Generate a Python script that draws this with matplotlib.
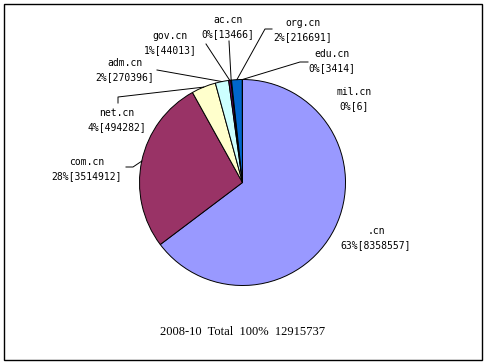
import matplotlib
matplotlib.use('Agg')
from matplotlib import pyplot as plt
from matplotlib.patches import Rectangle
import numpy as np

names = ['.cn', 'com.cn', 'net.cn', 'adm.cn', 'gov.cn', 'ac.cn', 'org.cn', 'edu.cn', 'mil.cn']
counts = [8358557, 3514912, 494282, 270396, 44013, 13466, 216691, 3414, 6]
percents = ['63%', '28%', '4%', '2%', '1%', '0%', '2%', '0%', '0%']
colors = ['#9999FF', '#993366', '#FFFFCC', '#CCFFFF', '#660066',
          '#FF8080', '#0066CC', '#CCCCFF', '#000080']
title = '2008-10  Total  100%  12915737'

W, H = 486, 363
def py(y):
    # pixel row from top -> axes y
    return H - y

fig = plt.figure(figsize=(4.86, 3.63), dpi=100)
ax = fig.add_axes([0, 0, 1, 1])

cx, cy, r = 242.5, py(182.5), 103
wedges, _ = ax.pie(counts, colors=colors, startangle=90, counterclock=False,
                   center=(cx, cy), radius=r, frame=True,
                   wedgeprops=dict(edgecolor='black', linewidth=0.7))
ax.set_xlim(0, W)
ax.set_ylim(0, H)
ax.set_aspect('equal')
ax.axis('off')

# label centres (x, row of name line) and leader line anchors
label_pos = {
    '.cn': (376, 231), 'com.cn': (87, 162), 'net.cn': (117, 113),
    'adm.cn': (125, 63), 'gov.cn': (170, 36), 'ac.cn': (228, 20),
    'org.cn': (303, 23), 'edu.cn': (332, 54), 'mil.cn': (354, 92),
}
leaders = {
    'com.cn': [(126, 167), (133, 167)],
    'net.cn': [(118, 103), (118, 97)],
    'adm.cn': [(157, 70)],
    'gov.cn': [(206, 44)],
    'ac.cn': [(229, 41)],
    'org.cn': [(272, 29), (265, 29)],
    'edu.cn': [(308, 62), (300, 62)],
}

mono = dict(family='DejaVu Sans Mono', fontsize=7, ha='center', va='center')
for w, n, c, p in zip(wedges, names, counts, percents):
    x, y = label_pos[n]
    ax.text(x, py(y), n, **mono)
    ax.text(x, py(y + 14), '%s[%d]' % (p, c), **mono)
    if n in leaders:
        a = np.deg2rad((w.theta1 + w.theta2) / 2)
        ex, ey = cx + r * np.cos(a), cy + r * np.sin(a)
        pts = leaders[n]
        xs = [q[0] for q in pts] + [ex]
        ys = [py(q[1]) for q in pts] + [ey]
        ax.plot(xs, ys, color='black', linewidth=0.7)

ax.text(242.5, py(332), title, family='Liberation Serif', fontsize=9,
        ha='center', va='center')

ax.add_patch(Rectangle((4, py(360)), 478, 356, fill=False,
                       edgecolor='black', linewidth=1))

fig.savefig('out.png', dpi=100)
